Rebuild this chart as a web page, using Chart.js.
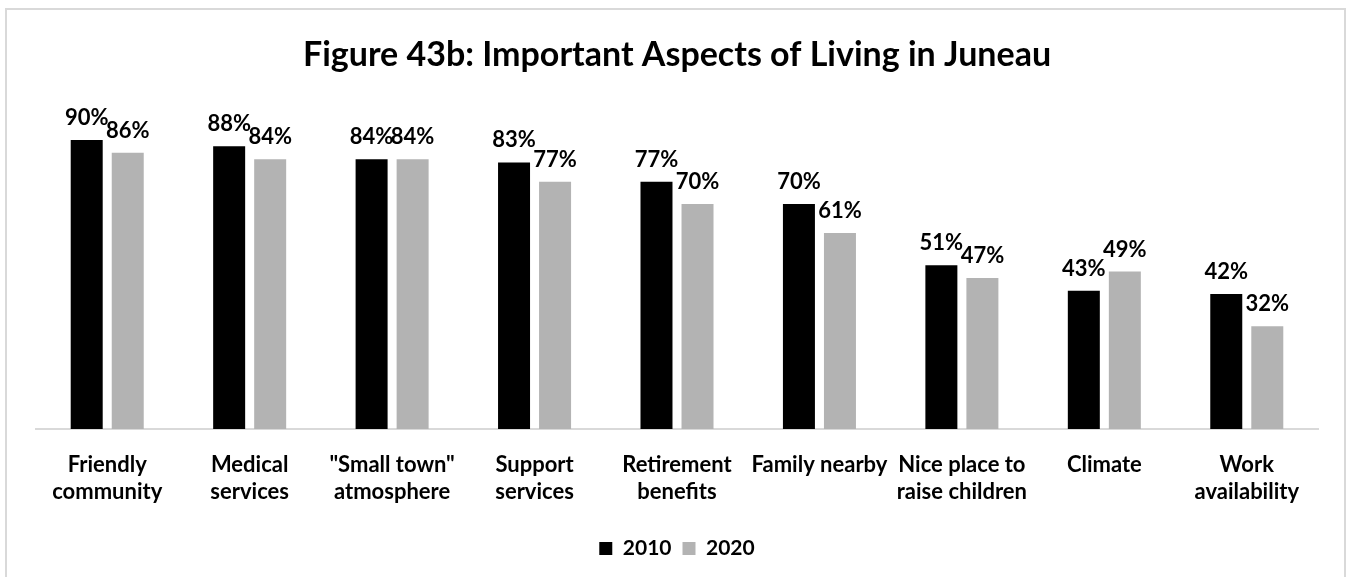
<!DOCTYPE html>
<html>
<head>
<meta charset="utf-8">
<script src="https://cdn.jsdelivr.net/npm/chart.js@4.4.1/dist/chart.umd.min.js"></script>
<style>
    html, body { margin: 0; padding: 0; background: #fff; }
    #frame {
        position: absolute; left: 5px; top: 8px; width: 1341px; height: 600px;
        border: 2px solid #d9d9d9; box-sizing: border-box;
    }
    #wrap { position: absolute; left: 0; top: 0; width: 1351px; height: 577px; }
</style>
</head>
<body>
<div id="frame"></div>
<div id="wrap"><canvas id="aspectsChart"></canvas></div>
<script>
// Chart data
const categories = [
    ['Friendly', 'community'],
    ['Medical', 'services'],
    ['"Small town"', 'atmosphere'],
    ['Support', 'services'],
    ['Retirement', 'benefits'],
    ['Family nearby'],
    ['Nice place to', 'raise children'],
    ['Climate'],
    ['Work', 'availability']
];
const values2010 = [90, 88, 84, 83, 77, 70, 51, 43, 42];
const values2020 = [86, 84, 84, 77, 70, 61, 47, 49, 32];
const seriesLabels = ['2010', '2020'];

const FONT = 'Lato, "Open Sans", sans-serif';

// Draw percentage labels above each bar
const barLabels = {
    id: 'barLabels',
    afterDatasetsDraw(chart) {
        const ctx = chart.ctx;
        ctx.save();
        ctx.font = 'bold 22px ' + FONT;
        ctx.fillStyle = '#000';
        ctx.textAlign = 'center';
        ctx.textBaseline = 'middle';
        chart.data.datasets.forEach((ds, i) => {
            chart.getDatasetMeta(i).data.forEach((bar, j) => {
                ctx.fillText(ds.data[j] + '%', bar.x, bar.y - 22);
            });
        });
        ctx.restore();
    }
};

document.addEventListener('DOMContentLoaded', function() {
    const ctx = document.getElementById('aspectsChart').getContext('2d');
    new Chart(ctx, {
        type: 'bar',
        data: {
            labels: categories,
            datasets: [{
                label: seriesLabels[0],
                data: values2010,
                backgroundColor: '#000000',
                categoryPercentage: 0.576,
                barPercentage: 0.78
            }, {
                label: seriesLabels[1],
                data: values2020,
                backgroundColor: '#b3b3b3',
                categoryPercentage: 0.576,
                barPercentage: 0.78
            }]
        },
        options: {
            responsive: true,
            maintainAspectRatio: false,
            animation: false,
            layout: {
                padding: { left: 36, right: 33, top: 10, bottom: 8 }
            },
            scales: {
                y: {
                    display: false,
                    min: 0,
                    max: 100
                },
                x: {
                    grid: { display: false, drawTicks: false },
                    border: { display: true, color: '#d9d9d9', width: 2 },
                    ticks: {
                        color: '#000',
                        padding: 22,
                        maxRotation: 0,
                        autoSkip: false,
                        font: { family: FONT, size: 22, weight: 'bold', lineHeight: 1.23 }
                    }
                }
            },
            plugins: {
                title: {
                    display: true,
                    text: 'Figure 43b: Important Aspects of Living in Juneau',
                    color: '#000',
                    font: { family: FONT, size: 34, weight: 'bold' },
                    padding: { top: 25, bottom: 32 }
                },
                legend: {
                    position: 'bottom',
                    labels: {
                        color: '#000',
                        boxWidth: 13,
                        boxHeight: 13,
                        padding: 11,
                        font: { family: FONT, size: 21, weight: 'bold' }
                    }
                },
                tooltip: { enabled: false }
            }
        },
        plugins: [barLabels]
    });
});
</script>
</body>
</html>
